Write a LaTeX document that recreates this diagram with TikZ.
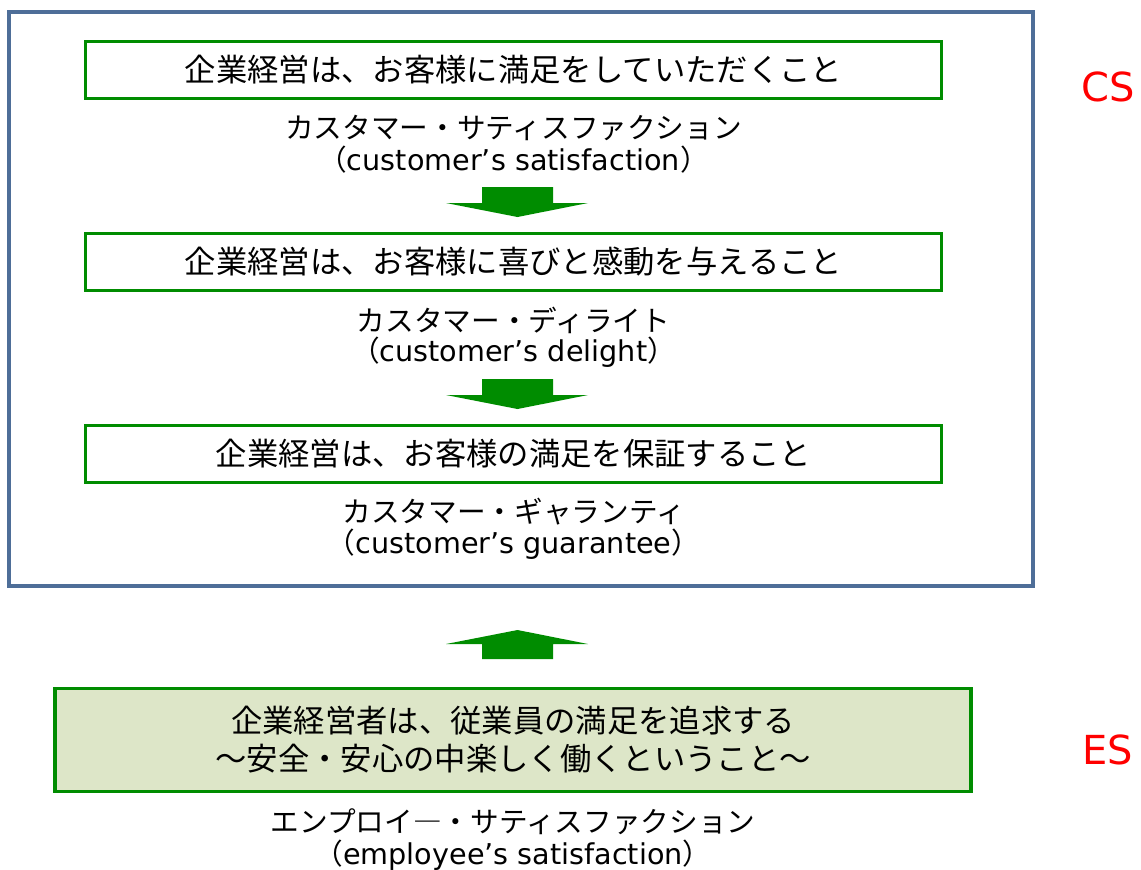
\documentclass[tikz,border=0pt]{standalone}
\usepackage{fontspec}
\setmainfont{Noto Sans CJK JP}
\newfontfamily\lat{DejaVu Sans}
\definecolor{outerblue}{RGB}{78,110,152}
\definecolor{boxgreen}{RGB}{0,140,0}
\definecolor{boxfill}{RGB}{221,230,200}
\tikzset{
  x=0.75pt, y=-0.75pt,
  mainbox/.style={draw=boxgreen, line width=2.6pt, minimum width=642pt, minimum height=43pt, inner sep=0pt, font=\fontsize{23.5}{28}\selectfont},
  lbl/.style={inner sep=0pt, font=\fontsize{21.5}{24}\selectfont},
  blk/.style={fill=boxgreen, draw=none},
  tag/.style={text=red, inner sep=0pt, font=\lat\fontsize{30}{34}\selectfont},
}
\begin{document}
\begin{tikzpicture}
\useasboundingbox (0,0) rectangle (1141,869);
\draw[outerblue, line width=2.6pt] (9,12) rectangle (1033,586);

\node[mainbox] (b1) at (513.5,70) {企業経営は、お客様に満足をしていただくこと};
\node[lbl] (l1a) at (513.5,128) {カスタマー・サティスファクション};
\node[lbl] (l1b) at (513.5,160) {（{\lat customer’s satisfaction}）};

\fill[blk] (482,187) -- (553,187) -- (553,203) -- (588,203) -- (517.5,217) -- (446,203) -- (482,203) -- cycle;

\node[mainbox] (b2) at (513.5,262) {企業経営は、お客様に喜びと感動を与えること};
\node[lbl] (l2a) at (513.5,320) {カスタマー・ディライト};
\node[lbl] (l2b) at (513.5,352) {（{\lat customer’s delight}）};

\fill[blk] (482,379) -- (553,379) -- (553,395) -- (588,395) -- (517.5,409) -- (446,395) -- (482,395) -- cycle;

\node[mainbox] (b3) at (513.5,454) {企業経営は、お客様の満足を保証すること};
\node[lbl] (l3a) at (513.5,512) {カスタマー・ギャランティ};
\node[lbl] (l3b) at (513.5,544) {（{\lat customer’s guarantee}）};

\fill[blk] (517.5,630) -- (588,644) -- (553,644) -- (553,659) -- (482,659) -- (482,644) -- (446,644) -- cycle;

\node[mainbox, fill=boxfill, minimum width=687pt, minimum height=77pt, align=center, font=\fontsize{23.5}{28.5}\selectfont] (b4) at (513,740) {企業経営者は、従業員の満足を追求する\\～安全・安心の中楽しく働くということ～};
\node[lbl] (l4a) at (513,822) {エンプロイ―・サティスファクション};
\node[lbl] (l4b) at (513,855) {（{\lat employee’s satisfaction}）};

\node[tag] (cs) at (1108,87) {CS};
\node[tag] (es) at (1108,750) {ES};
\end{tikzpicture}
\end{document}
